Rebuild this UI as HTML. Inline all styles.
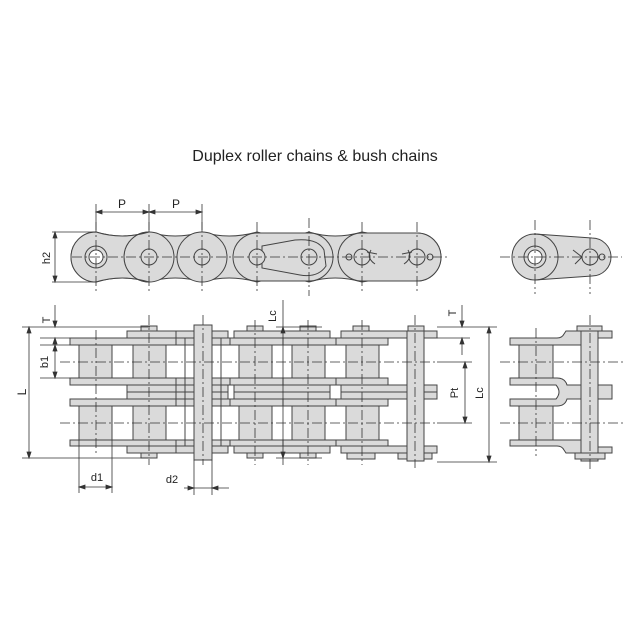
<!DOCTYPE html>
<html><head><meta charset="utf-8"><style>
html,body{margin:0;padding:0;background:#fff}
svg{display:block}
text{font-family:"Liberation Sans",sans-serif;fill:#222}
</style></head><body>
<svg width="639" height="639" viewBox="0 0 639 639" xmlns="http://www.w3.org/2000/svg">
<rect width="639" height="639" fill="#fff"/>
<text x="315" y="161" font-size="16" text-anchor="middle">Duplex roller chains &amp; bush chains</text>

<g stroke="#444" stroke-width="1" fill="#dadada">
  <path d="M96,232 Q122,240 149,232 Q175,240 202,232 Q229,240 257,232 Q283,240 309,232 Q335,240 362,232 Q390,238 417,233 A24,24 0 0 1 417,281 Q390,276 362,282 Q335,274 309,282 Q283,274 257,282 Q229,274 202,282 Q175,274 149,282 Q122,274 96,282 A25,25 0 0 1 96,232 Z"/>
  <circle cx="149" cy="257" r="25"/>
  <circle cx="202" cy="257" r="25"/>
  <path d="M96,232 Q122,240 149,232 A25,25 0 0 0 149,282 Q122,274 96,282 A25,25 0 0 1 96,232Z"/>
  <path d="M257,233 L309,233 A24,24 0 0 1 309,281 L257,281 A24,24 0 0 1 257,233Z"/>
  <path d="M262,246 L295,240 Q318,238 324,250 L326,266 Q318,278 300,275 L262,268 Z" fill="none"/>
  <path d="M362,233 L417,233 A24,24 0 0 1 417,281 L362,281 A24,24 0 0 1 362,233Z"/>
  <circle cx="96" cy="257" r="11"/>
  <circle cx="96" cy="257" r="7" fill="#fff"/>
  <circle cx="149" cy="257" r="8"/>
  <circle cx="202" cy="257" r="8"/>
  <circle cx="257" cy="257" r="8"/>
  <circle cx="309" cy="257" r="8"/>
  <circle cx="362" cy="257" r="8"/>
  <circle cx="417" cy="257" r="8"/>
  <circle cx="349" cy="257" r="3" fill="none"/>
  <circle cx="430" cy="257" r="3" fill="none"/>
  <path d="M371,250 Q366,258 375,264 M367,252 L377,254" fill="none"/>
  <path d="M408,250 Q413,258 404,264 M412,252 L402,254" fill="none"/>
</g>
<g stroke="#444" stroke-width="1" fill="#dadada">
  <path d="M535,234 L592,238 A19,19 0 0 1 592,276 L535,280 A23,23 0 0 1 535,234Z"/>
  <path d="M535,234 A23,23 0 0 1 535,280 A23,23 0 0 0 535,234Z" />
  <circle cx="535" cy="257" r="11"/>
  <circle cx="535" cy="257" r="7" fill="#fff"/>
  <circle cx="590" cy="257" r="8"/>
  <circle cx="602" cy="257" r="3" fill="none"/>
  <path d="M573,250 L582,257 L575,264" fill="none"/>
</g>
<g stroke="#333" stroke-width="0.8" stroke-dasharray="10,3,2,3" fill="none">
  <line x1="72" y1="257" x2="450" y2="257"/>
  <line x1="500" y1="257" x2="622" y2="257"/>
  <line x1="96" y1="222" x2="96" y2="292"/><line x1="149" y1="222" x2="149" y2="292"/>
  <line x1="202" y1="222" x2="202" y2="292"/><line x1="257" y1="222" x2="257" y2="292"/>
  <line x1="309" y1="218" x2="309" y2="296"/><line x1="362" y1="222" x2="362" y2="292"/>
  <line x1="417" y1="222" x2="417" y2="292"/>
  <line x1="535" y1="220" x2="535" y2="294"/><line x1="590" y1="220" x2="590" y2="294"/>
</g>
<g stroke="#333" stroke-width="0.8" fill="#333">
  <line x1="96" y1="204" x2="96" y2="230"/><line x1="149" y1="204" x2="149" y2="230"/><line x1="202" y1="204" x2="202" y2="230"/>
  <line x1="96" y1="212" x2="202" y2="212"/>
  <path d="M96,212 l6,-2 v4z M149,212 l-6,-2 v4z M149,212 l6,-2 v4z M202,212 l-6,-2 v4z"/>
  <line x1="52" y1="232" x2="96" y2="232"/><line x1="52" y1="282" x2="96" y2="282"/>
  <line x1="55" y1="232" x2="55" y2="282"/>
  <path d="M55,232 l-2,6 h4z M55,282 l-2,-6 h4z"/>
</g>
<text x="122" y="208" font-size="12" text-anchor="middle">P</text>
<text x="176" y="208" font-size="12" text-anchor="middle">P</text>
<text x="50" y="258" font-size="11" text-anchor="middle" transform="rotate(-90 50 258)">h2</text>

<g stroke="#444" stroke-width="1" fill="#dadada">
  <rect x="79" y="345" width="33" height="33"/><rect x="133" y="345" width="33" height="33"/>
  <rect x="239" y="345" width="33" height="33"/><rect x="292" y="345" width="33" height="33"/>
  <rect x="346" y="345" width="33" height="33"/>
  <rect x="79" y="406" width="33" height="34"/><rect x="133" y="406" width="33" height="34"/>
  <rect x="239" y="406" width="33" height="34"/><rect x="292" y="406" width="33" height="34"/>
  <rect x="346" y="406" width="33" height="34"/>
  <rect x="70" y="338" width="106" height="7"/><rect x="70" y="378" width="106" height="7"/>
  <rect x="70" y="399" width="106" height="7"/><rect x="70" y="440" width="106" height="6"/>
  <rect x="176" y="338" width="54" height="7"/><rect x="176" y="378" width="54" height="7"/>
  <rect x="176" y="399" width="54" height="7"/><rect x="176" y="440" width="54" height="6"/>
  <rect x="230" y="338" width="53" height="7"/><rect x="230" y="378" width="53" height="7"/>
  <rect x="230" y="399" width="53" height="7"/><rect x="230" y="440" width="53" height="6"/>
  <rect x="283" y="338" width="53" height="7"/><rect x="283" y="378" width="53" height="7"/>
  <rect x="283" y="399" width="53" height="7"/><rect x="283" y="440" width="53" height="6"/>
  <rect x="336" y="338" width="52" height="7"/><rect x="336" y="378" width="52" height="7"/>
  <rect x="336" y="399" width="52" height="7"/><rect x="336" y="440" width="52" height="6"/>
  <rect x="127" y="385" width="49" height="7"/><rect x="127" y="392" width="49" height="7"/>
  <rect x="176" y="385" width="52" height="7"/><rect x="176" y="392" width="52" height="7"/>
  <rect x="234" y="385" width="96" height="7"/><rect x="234" y="392" width="96" height="7"/>
  <rect x="341" y="385" width="96" height="7"/><rect x="341" y="392" width="96" height="7"/>
  <rect x="127" y="331" width="49" height="7"/><rect x="127" y="446" width="49" height="7"/>
  <rect x="176" y="331" width="52" height="7"/><rect x="176" y="446" width="52" height="7"/>
  <rect x="234" y="331" width="96" height="7"/><rect x="234" y="446" width="96" height="7"/>
  <rect x="341" y="331" width="96" height="7"/><rect x="341" y="446" width="96" height="7"/>
  <rect x="141" y="326" width="16" height="5"/><rect x="141" y="453" width="16" height="5"/>
  <rect x="247" y="326" width="16" height="5"/><rect x="247" y="453" width="16" height="5"/>
  <rect x="300" y="326" width="16" height="5"/><rect x="300" y="453" width="16" height="5"/>
  <rect x="353" y="326" width="16" height="5"/><rect x="347" y="453" width="28" height="6"/>
  <rect x="408" y="326" width="16" height="5"/><rect x="398" y="453" width="34" height="6"/>
  <rect x="407" y="331" width="17" height="130"/>
  <rect x="194" y="325" width="18" height="135"/>
  <rect x="185" y="338" width="9" height="108" fill="none"/>
  <rect x="212" y="338" width="9" height="108" fill="none"/>
</g>
<g stroke="#444" stroke-width="1" fill="#dadada">
  <rect x="519" y="345" width="34" height="33"/><rect x="519" y="406" width="34" height="34"/>
  <path d="M510,338 H557 Q562,338 564,334 L566,331 H612 V338 H598 V345 H510Z"/>
  <path d="M510,378 H557 Q565,378 567,385 H612 V399 H567 Q565,406 557,406 H510 V399 H556 Q562,392 556,385 H510Z"/>
  <path d="M510,440 H598 V447 H612 V453 H566 L564,450 Q562,446 557,446 H510Z"/>
  <rect x="581" y="331" width="17" height="130"/>
  <rect x="577" y="326" width="25" height="5"/>
  <rect x="575" y="453" width="30" height="6"/>
</g>
<g stroke="#333" stroke-width="0.8" stroke-dasharray="10,3,2,3" fill="none">
  <line x1="60" y1="362" x2="437" y2="362"/><line x1="60" y1="423" x2="437" y2="423"/>
  <line x1="500" y1="362" x2="625" y2="362"/><line x1="500" y1="423" x2="625" y2="423"/>
  <line x1="96" y1="330" x2="96" y2="455"/><line x1="149" y1="315" x2="149" y2="465"/>
  <line x1="203" y1="315" x2="203" y2="465"/><line x1="255" y1="320" x2="255" y2="465"/>
  <line x1="308" y1="320" x2="308" y2="465"/><line x1="362" y1="320" x2="362" y2="465"/>
  <line x1="415" y1="315" x2="415" y2="468"/>
  <line x1="536" y1="328" x2="536" y2="456"/><line x1="590" y1="315" x2="590" y2="470"/>
</g>
<g stroke="#333" stroke-width="0.8" fill="#333">
  <line x1="22" y1="327" x2="150" y2="327"/><line x1="22" y1="458" x2="150" y2="458"/>
  <line x1="29" y1="327" x2="29" y2="458"/>
  <path d="M29,327 l-2,6 h4z M29,458 l-2,-6 h4z"/>
  <line x1="40" y1="338" x2="70" y2="338"/><line x1="40" y1="345" x2="70" y2="345"/><line x1="40" y1="378" x2="70" y2="378"/>
  <line x1="55" y1="305" x2="55" y2="327"/><line x1="55" y1="338" x2="55" y2="352"/>
  <path d="M55,327 l-2,-6 h4z M55,338 l-2,6 h4z"/>
  <line x1="55" y1="345" x2="55" y2="378"/>
  <path d="M55,345 l-2,6 h4z M55,378 l-2,-6 h4z"/>
  <line x1="79" y1="440" x2="79" y2="493"/><line x1="112" y1="440" x2="112" y2="493"/>
  <line x1="79" y1="487" x2="112" y2="487"/>
  <path d="M79,487 l6,-2 v4z M112,487 l-6,-2 v4z"/>
  <line x1="194" y1="460" x2="194" y2="495"/><line x1="212" y1="460" x2="212" y2="495"/>
  <line x1="184" y1="488" x2="229" y2="488"/>
  <path d="M194,488 l-6,-2 v4z M212,488 l6,-2 v4z"/>
  <line x1="283" y1="300" x2="283" y2="465"/>
  <line x1="276" y1="327" x2="322" y2="327"/><line x1="276" y1="458" x2="322" y2="458"/>
  <path d="M283,327 l-2,6 h4z M283,458 l-2,-6 h4z"/>
  <line x1="437" y1="327" x2="497" y2="327"/><line x1="437" y1="338" x2="470" y2="338"/>
  <line x1="437" y1="362" x2="472" y2="362"/><line x1="437" y1="423" x2="472" y2="423"/>
  <line x1="437" y1="462" x2="497" y2="462"/>
  <line x1="462" y1="305" x2="462" y2="327"/><line x1="462" y1="338" x2="462" y2="355"/>
  <path d="M462,327 l-2,-6 h4z M462,338 l-2,6 h4z"/>
  <line x1="465" y1="362" x2="465" y2="423"/>
  <path d="M465,362 l-2,6 h4z M465,423 l-2,-6 h4z"/>
  <line x1="489" y1="327" x2="489" y2="462"/>
  <path d="M489,327 l-2,6 h4z M489,462 l-2,-6 h4z"/>
</g>
<text x="50" y="320" font-size="11" text-anchor="middle" transform="rotate(-90 50 320)">T</text>
<text x="48" y="362" font-size="11" text-anchor="middle" transform="rotate(-90 48 362)">b1</text>
<text x="26" y="392" font-size="12" text-anchor="middle" transform="rotate(-90 26 392)">L</text>
<text x="97" y="481" font-size="11" text-anchor="middle">d1</text>
<text x="172" y="483" font-size="11" text-anchor="middle">d2</text>
<text x="276" y="316" font-size="11" text-anchor="middle" transform="rotate(-90 276 316)">Lc</text>
<text x="456" y="313" font-size="11" text-anchor="middle" transform="rotate(-90 456 313)">T</text>
<text x="458" y="393" font-size="11" text-anchor="middle" transform="rotate(-90 458 393)">Pt</text>
<text x="483" y="393" font-size="11" text-anchor="middle" transform="rotate(-90 483 393)">Lc</text>
</svg>
</body></html>
